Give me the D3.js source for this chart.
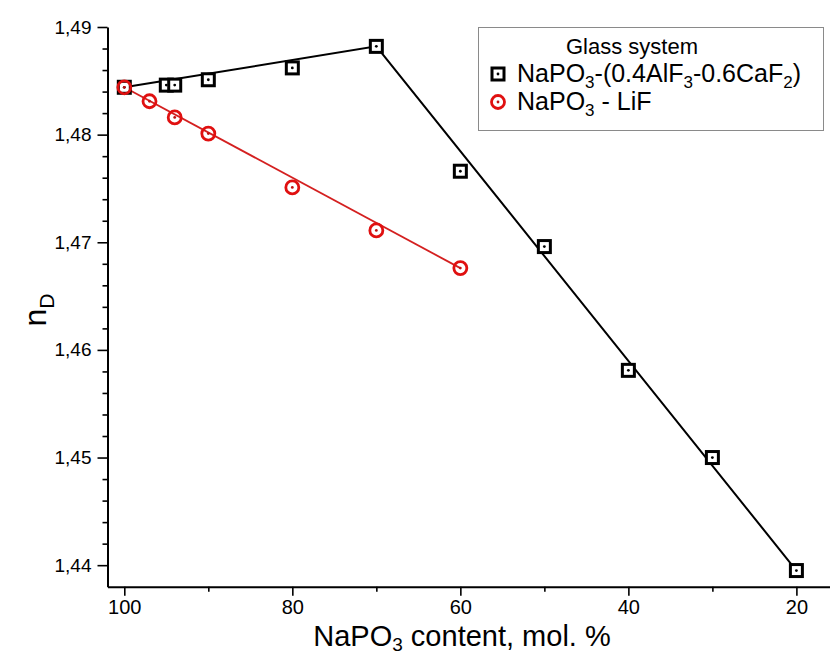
<!DOCTYPE html>
<html>
<head>
<meta charset="utf-8">
<script src="https://cdn.jsdelivr.net/npm/d3@7"></script>
<style>
  body { margin: 0; background: #fff; }
  svg { font-family: "Liberation Sans", Arial, sans-serif; }
</style>
</head>
<body>
<svg id="chart" width="830" height="656"></svg>
<script>
// data
let alfX = [100, 95, 94, 90, 80, 70, 60, 50, 40, 30, 20];
let alfY = [1.4844, 1.4846, 1.4846, 1.4851, 1.4862, 1.4882, 1.4766, 1.4696, 1.4581, 1.4500, 1.4395];
let lifX = [100, 97, 94, 90, 80, 70, 60];
let lifY = [1.4844, 1.4831, 1.4816, 1.4801, 1.4751, 1.4711, 1.4676];

// fitted lines (end points of each straight segment)
let alfFitX = [100, 70, 20];
let alfFitY = [1.4844, 1.4882, 1.4395];
let lifFitX = [100, 60];
let lifFitY = [1.4844, 1.4676];

let xTicks = [100, 80, 60, 40, 20];
let xMinor = [90, 70, 50, 30];
let yTicks = [1.44, 1.45, 1.46, 1.47, 1.48, 1.49];

(function(){

    let svg = d3.select('#chart');

    let x = d3.scaleLinear().domain([102, 16]).range([107.5, 830]);
    let y = d3.scaleLinear().domain([1.438, 1.49]).range([586.7, 27]);

    let comma = d3.formatLocale({decimal: ',', thousands: '.', grouping: [3], currency: ['', '']}).format('.2f');

    //#region axes
    let yMinor = d3.range(1.44, 1.4901, 0.002).filter(v => !yTicks.some(t => Math.abs(t - v) < 1e-6));

    let gx = svg.append('g').attr('transform', 'translate(0,' + y(1.438) + ')');
    gx.call(d3.axisBottom(x).tickValues(xMinor).tickSize(5).tickFormat(''));
    gx.call(g => g.selectAll('.domain').remove());
    let gx2 = svg.append('g').attr('transform', 'translate(0,' + y(1.438) + ')');
    gx2.call(d3.axisBottom(x).tickValues(xTicks).tickSize(9).tickSizeOuter(0).tickPadding(4));

    let gy = svg.append('g').attr('transform', 'translate(' + x(102) + ',0)');
    gy.call(d3.axisLeft(y).tickValues(yMinor).tickSize(5).tickFormat(''));
    gy.call(g => g.selectAll('.domain').remove());
    let gy2 = svg.append('g').attr('transform', 'translate(' + x(102) + ',0)');
    gy2.call(d3.axisLeft(y).tickValues(yTicks).tickSize(10).tickSizeOuter(0).tickPadding(6).tickFormat(comma));

    svg.selectAll('.tick line').attr('stroke-width', 1.6);
    svg.selectAll('.domain').attr('stroke-width', 2);
    gx2.selectAll('text').attr('font-size', 20).attr('font-family', 'Liberation Sans');
    gy2.selectAll('text').attr('font-size', 19).attr('font-family', 'Liberation Sans');

    // axis titles
    let xt = svg.append('text')
        .attr('x', 462).attr('y', 646)
        .attr('text-anchor', 'middle')
        .attr('font-size', 29);
    xt.append('tspan').text('NaPO');
    xt.append('tspan').attr('font-size', 19).attr('dy', 5).text('3');
    xt.append('tspan').attr('dy', -5).text(' content, mol. %');

    let yt = svg.append('text')
        .attr('transform', 'translate(46,310) rotate(-90)')
        .attr('text-anchor', 'middle')
        .attr('font-size', 32);
    yt.append('tspan').text('n');
    yt.append('tspan').attr('font-size', 21).attr('dy', 8).text('D');
    //#endregion

    //#region lines
    let line = d3.line().x(d => x(d[0])).y(d => y(d[1]));

    svg.append('path')
        .attr('d', line(d3.zip(alfFitX, alfFitY)))
        .attr('fill', 'none').attr('stroke', '#000').attr('stroke-width', 2);
    svg.append('path')
        .attr('d', line(d3.zip(lifFitX, lifFitY)))
        .attr('fill', 'none').attr('stroke', '#d42020').attr('stroke-width', 1.8);
    //#endregion

    //#region markers
    function drawSquare(g, cx, cy){
        g.append('rect')
            .attr('x', cx - 6).attr('y', cy - 6)
            .attr('width', 12).attr('height', 12)
            .attr('fill', '#fff').attr('stroke', '#000').attr('stroke-width', 3);
        g.append('circle').attr('cx', cx).attr('cy', cy).attr('r', 1.4).attr('fill', '#000');
    }
    function drawCircle(g, cx, cy){
        g.append('circle')
            .attr('cx', cx).attr('cy', cy).attr('r', 6.5)
            .attr('fill', 'none').attr('stroke', '#e01010').attr('stroke-width', 2.8);
        g.append('circle').attr('cx', cx).attr('cy', cy).attr('r', 1.4).attr('fill', '#c01010');
    }

    let gm = svg.append('g');
    d3.zip(alfX, alfY).forEach(d => drawSquare(gm, x(d[0]), y(d[1])));
    d3.zip(lifX, lifY).forEach(d => drawCircle(gm, x(d[0]), y(d[1])));
    //#endregion

    //#region legend
    let lg = svg.append('g');
    lg.append('rect')
        .attr('x', 478.5).attr('y', 27.5).attr('width', 345).attr('height', 103)
        .attr('fill', '#fff').attr('stroke', '#8a8a8a').attr('stroke-width', 1);
    lg.append('text').attr('x', 632).attr('y', 54).attr('text-anchor', 'middle')
        .attr('font-size', 22).text('Glass system');

    drawSquare(lg, 498, 74);
    let t1 = lg.append('text').attr('x', 517).attr('y', 82).attr('font-size', 25);
    t1.append('tspan').text('NaPO');
    t1.append('tspan').attr('font-size', 17).attr('dy', 6).text('3');
    t1.append('tspan').attr('dy', -6).text('-(0.4AlF');
    t1.append('tspan').attr('font-size', 17).attr('dy', 6).text('3');
    t1.append('tspan').attr('dy', -6).text('-0.6CaF');
    t1.append('tspan').attr('font-size', 17).attr('dy', 6).text('2');
    t1.append('tspan').attr('dy', -6).text(')');

    drawCircle(lg, 498, 102);
    let t2 = lg.append('text').attr('x', 517).attr('y', 110).attr('font-size', 25);
    t2.append('tspan').text('NaPO');
    t2.append('tspan').attr('font-size', 17).attr('dy', 6).text('3');
    t2.append('tspan').attr('dy', -6).text(' - LiF');
    //#endregion

})()
</script>
</body>
</html>
